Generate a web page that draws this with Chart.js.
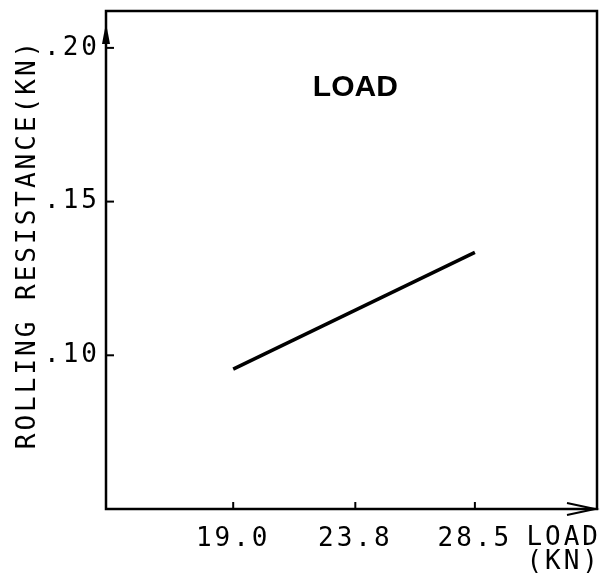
<!DOCTYPE html>
<html lang="en">
<head>
<meta charset="UTF-8">
<script src="https://cdn.jsdelivr.net/npm/chart.js"></script>
<title>Rolling resistance vs load</title>
<style>
  html, body { margin: 0; padding: 0; background: #fff; }
  #wrap { width: 612px; height: 580px; }
</style>
</head>
<body>
<div id="wrap"><canvas id="chart" width="612" height="580"></canvas></div>
<script>
// data
var loads = [19.0, 28.5];
var resistance = [0.0955, 0.1335];
var xTicks = [19.0, 23.8, 28.5];
var yTicks = [0.10, 0.15, 0.20];

var monoFont = 'DejaVu Sans Mono';
var spacing = '3px';

// frame, inward ticks, arrows and free text
var decor = {
  id: 'decor',
  beforeDraw: function (chart) {
    chart.ctx.letterSpacing = spacing;
  },
  afterDraw: function (chart) {
    var ctx = chart.ctx, a = chart.chartArea;
    var xs = chart.scales.x, ys = chart.scales.y;
    ctx.save();
    ctx.strokeStyle = '#000';
    ctx.fillStyle = '#000';
    ctx.lineWidth = 2.5;
    ctx.strokeRect(a.left, a.top, a.right - a.left, a.bottom - a.top);

    ctx.lineWidth = 2;
    yTicks.forEach(function (v) {
      var py = ys.getPixelForValue(v);
      ctx.beginPath(); ctx.moveTo(a.left, py); ctx.lineTo(a.left + 8, py); ctx.stroke();
    });
    xTicks.forEach(function (v) {
      var px = xs.getPixelForValue(v);
      ctx.beginPath(); ctx.moveTo(px, a.bottom); ctx.lineTo(px, a.bottom - 7); ctx.stroke();
    });

    // y axis arrow
    ctx.beginPath();
    ctx.moveTo(a.left, a.top + 12);
    ctx.lineTo(a.left - 4, a.top + 33);
    ctx.lineTo(a.left + 4, a.top + 33);
    ctx.closePath(); ctx.fill();
    // x axis arrow
    ctx.beginPath();
    ctx.moveTo(a.right - 30, a.bottom - 6);
    ctx.lineTo(a.right - 2, a.bottom);
    ctx.lineTo(a.right - 30, a.bottom + 6);
    ctx.stroke();

    ctx.letterSpacing = '0px';
    ctx.font = 'bold 30px "Liberation Sans"';
    ctx.textAlign = 'center';
    ctx.textBaseline = 'alphabetic';
    ctx.fillText('LOAD', xs.getPixelForValue(23.8), a.top + 85);

    ctx.letterSpacing = spacing;
    ctx.font = '26px "' + monoFont + '"';
    ctx.textAlign = 'right';
    ctx.fillText('LOAD', a.right + 4, a.bottom + 36);
    ctx.fillText('(KN)', a.right + 4, a.bottom + 60);

    // y axis title
    ctx.translate(35, 244);
    ctx.rotate(-Math.PI / 2);
    ctx.textAlign = 'center';
    ctx.fillText('ROLLING RESISTANCE(KN)', 0, 0);
    ctx.restore();
  }
};

new Chart(document.getElementById('chart'), {
  type: 'line',
  data: {
    labels: loads,
    datasets: [{
      data: loads.map(function (x, i) { return { x: x, y: resistance[i] }; }),
      borderColor: '#000',
      borderWidth: 3.5,
      pointRadius: 0,
      fill: false
    }]
  },
  options: {
    responsive: false,
    animation: false,
    layout: { padding: { top: 11, right: 15 } },
    plugins: { legend: { display: false }, tooltip: { enabled: false } },
    scales: {
      x: {
        type: 'linear',
        min: 14.0,
        max: 33.3,
        afterBuildTicks: function (s) { s.ticks = xTicks.map(function (v) { return { value: v }; }); },
        afterFit: function (s) { s.height = 71; s.paddingLeft = 0; s.paddingRight = 0; },
        grid: { display: false, drawTicks: false },
        border: { display: false },
        ticks: {
          padding: 15,
          color: '#000',
          font: { family: monoFont, size: 26 },
          callback: function (v) { return v.toFixed(1); }
        }
      },
      y: {
        min: 0.05,
        max: 0.212,
        afterBuildTicks: function (s) { s.ticks = yTicks.map(function (v) { return { value: v }; }); },
        afterFit: function (s) { s.width = 106; s.paddingTop = 0; s.paddingBottom = 0; },
        grid: { display: false, drawTicks: false },
        border: { display: false },
        ticks: {
          padding: 6,
          color: '#000',
          font: { family: monoFont, size: 26 },
          callback: function (v) { return v.toFixed(2).replace(/^0/, ''); }
        }
      }
    }
  },
  plugins: [decor]
});
</script>
</body>
</html>
